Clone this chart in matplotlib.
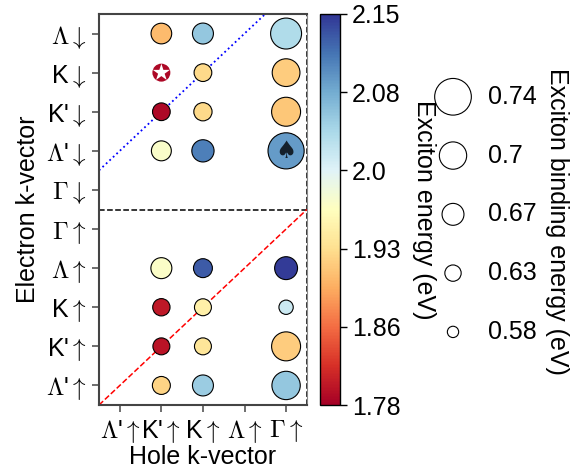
import numpy as np
import matplotlib
matplotlib.use("Agg")
import matplotlib.pyplot as plt

plt.rcParams['font.family'] = ['Liberation Sans', 'DejaVu Sans']
plt.rcParams['mathtext.fontset'] = 'cm'
plt.rcParams['font.size'] = 18

# Axis labels (hole along x, electron along y)
hole_labels = [r"$\Lambda$'$\uparrow$", r"K'$\uparrow$", r"K$\uparrow$",
               r"$\Lambda\uparrow$", r"$\Gamma\uparrow$"]
electron_labels = [r"$\Lambda$'$\uparrow$", r"K'$\uparrow$", r"K$\uparrow$",
                   r"$\Lambda\uparrow$", r"$\Gamma\uparrow$", r"$\Gamma\downarrow$",
                   r"$\Lambda$'$\downarrow$", r"K'$\downarrow$", r"K$\downarrow$",
                   r"$\Lambda\downarrow$"]

# Exciton table: hole index, electron index, exciton energy (eV), binding energy (eV)
hole_idx = [1, 2, 4, 1, 2, 4, 1, 2, 4, 1, 2, 4,
            1, 2, 4, 1, 2, 4, 1, 2, 4, 1, 2, 4]
elec_idx = [0, 0, 0, 1, 1, 1, 2, 2, 2, 3, 3, 3,
            6, 6, 6, 7, 7, 7, 8, 8, 8, 9, 9, 9]
exciton_energy = [1.920, 2.050, 2.054, 1.795, 1.935, 1.913, 1.800, 1.947, 2.017,
                  1.970, 2.128, 2.146, 1.972, 2.106, 2.087, 1.787, 1.924, 1.910,
                  1.787, 1.924, 1.913, 1.900, 2.054, 2.035]
binding_energy = [0.643, 0.664, 0.705, 0.635, 0.635, 0.708, 0.638, 0.635, 0.612,
                  0.664, 0.650, 0.676, 0.657, 0.672, 0.738, 0.641, 0.645, 0.708,
                  0.643, 0.641, 0.702, 0.662, 0.664, 0.717]

# Special states: bright exciton (star) and lowest-lying dark one (spade)
star_pos = (1, 8)
spade_pos = (4, 6)

legend_values = [0.74, 0.70, 0.67, 0.63, 0.58]
legend_labels = ['0.74', '0.7', '0.67', '0.63', '0.58']

cbar_ticks = [1.78, 1.854, 1.928, 2.002, 2.076, 2.15]
cbar_ticklabels = ['1.78', '1.86', '1.93', '2.0', '2.08', '2.15']
e_min, e_max = 1.78, 2.15


def marker_size(eb):
    """Scatter area (pt^2) from binding energy."""
    return (26.4 * np.exp(7.35 * (np.asarray(eb) - 0.74))) ** 2


fig = plt.figure(figsize=(5.79, 4.68), dpi=100)
ax = fig.add_axes([0.171, 0.1346, 0.359, 0.8355])
cax = fig.add_axes([0.5527, 0.1346, 0.0345, 0.8355])
lax = fig.add_axes([0.7306, 0.228, 0.1036, 0.628])

hole_idx = np.array(hole_idx)
elec_idx = np.array(elec_idx)
is_star = (hole_idx == star_pos[0]) & (elec_idx == star_pos[1])
eb = np.array(binding_energy)
ee = np.array(exciton_energy)

sc = ax.scatter(hole_idx[~is_star], elec_idx[~is_star], s=marker_size(eb[~is_star]),
                c=ee[~is_star], cmap='RdYlBu', vmin=e_min, vmax=e_max,
                edgecolors='black', linewidths=0.8, zorder=3)
ax.scatter(hole_idx[is_star], elec_idx[is_star], s=marker_size(eb[is_star]),
           c=ee[is_star], cmap='RdYlBu', vmin=e_min, vmax=e_max,
           edgecolors='none', zorder=3)
ax.scatter(hole_idx[is_star], elec_idx[is_star], s=marker_size(eb[is_star]) * 1.0,
           marker='*', color='white', edgecolors='none', zorder=4)
ax.text(spade_pos[0], spade_pos[1], '\u2660', family='DejaVu Sans', fontsize=17,
        color='#15202b', ha='center', va='center', zorder=5)

# Spin sector divider and diagonals
ax.axhline(4.5, color='black', ls='--', lw=1.1, zorder=2)
ax.axvline(4.5, color='black', ls='--', lw=1.1, zorder=2, clip_on=False)
ax.plot([-0.5, 4.5], [-0.5, 4.5], color='red', ls='--', lw=1.1, zorder=2)
ax.plot([-0.5, 3.5], [5.5, 9.5], color='blue', ls=':', lw=1.3, zorder=2)

ax.set_xlim(-0.5, 4.5)
ax.set_ylim(-0.5, 9.5)
ax.set_xticks(range(len(hole_labels)))
ax.set_xticklabels(hole_labels)
ax.set_yticks(range(len(electron_labels)))
ax.set_yticklabels(electron_labels)
ax.tick_params(length=5, width=1.2, color='#555555', pad=4)
ax.set_xlabel('Hole k-vector', labelpad=0)
ax.set_ylabel('Electron k-vector', labelpad=4)
for side in ['left', 'bottom', 'top']:
    ax.spines[side].set_linewidth(1.5)
    ax.spines[side].set_color('#444444')
ax.spines['right'].set_linewidth(0.8)
ax.spines['right'].set_color('#888888')

cbar = fig.colorbar(sc, cax=cax)
cbar.set_ticks(cbar_ticks)
cbar.set_ticklabels(cbar_ticklabels)
cbar.ax.tick_params(length=5, width=1.0)
cbar.outline.set_linewidth(1.0)
cbar.set_label('Exciton energy (eV)', rotation=270, va='bottom', labelpad=8)

# Binding energy size key
ly = np.arange(len(legend_values))[::-1]
lax.scatter(np.zeros(len(legend_values)), ly, s=marker_size(legend_values),
            facecolors='none', edgecolors='black', linewidths=0.8)
for y, lab in zip(ly, legend_labels):
    lax.text(1.17, y, lab, ha='left', va='center')
lax.set_xlim(-1, 1)
lax.set_ylim(-0.5, 4.5)
lax.axis('off')
fig.text(0.962, 0.526, 'Exciton binding energy (eV)', rotation=270,
         ha='center', va='center')

fig.savefig('out.png', dpi=100)
